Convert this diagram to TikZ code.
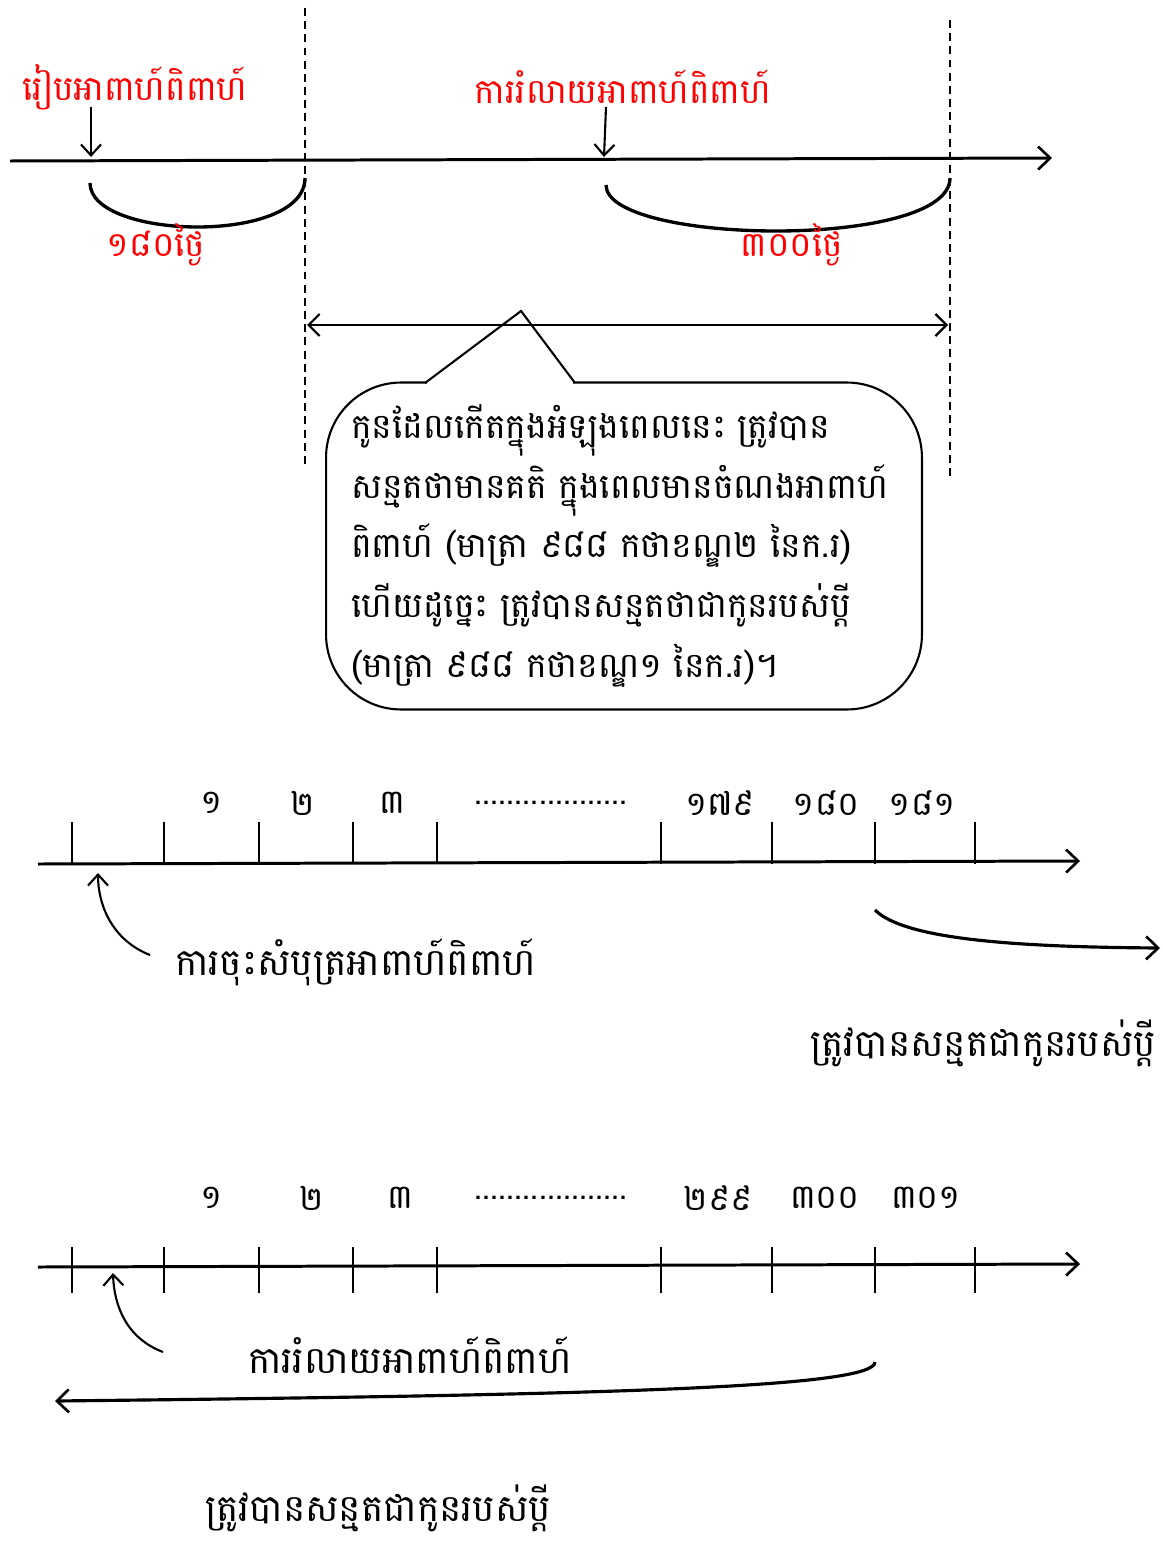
\documentclass[tikz,border=0pt]{standalone}
\usepackage{fontspec}
\newfontfamily\khmerfont[Script=Khmer]{Battambang}
\usetikzlibrary{arrows.meta, positioning}
\definecolor{labelred}{HTML}{FF0000}

\begin{document}
\begin{tikzpicture}[x=0.02cm, y=-0.02cm,
  axis/.style={line width=1.7pt, -{Straight Barb[length=2.4mm, width=4.6mm, line width=1.5pt]}},
  pointer/.style={line width=1.2pt, -{Straight Barb[length=2.2mm, width=4mm, line width=1.2pt]}},
  span/.style={line width=1.3pt, {Straight Barb[length=2.2mm, width=4.4mm, line width=1.3pt]}-{Straight Barb[length=2.2mm, width=4.4mm, line width=1.3pt]}},
  sweep/.style={line width=1.8pt, -{Straight Barb[length=2.4mm, width=4.6mm, line width=1.5pt]}},
  brace/.style={line width=1.9pt},
  marker/.style={line width=1.3pt},
  guide/.style={line width=1.1pt, dash pattern=on 4.5pt off 3pt},
  redlbl/.style={font=\khmerfont\fontsize{19.5}{22}\selectfont, text=labelred, inner sep=0pt},
  lbl/.style={font=\khmerfont\fontsize{21.3}{24}\selectfont, inner sep=0pt},
  num/.style={font=\khmerfont\fontsize{19}{22}\selectfont, inner sep=0pt},
  note/.style={draw, line width=1.2pt, rounded corners=1.5cm, minimum width=11.92cm,
               minimum height=6.54cm, align=left, text width=10.92cm, inner sep=0pt,
               font=\khmerfont\fontsize{19.7}{34}\selectfont},
]
\useasboundingbox (0,0) rectangle (1162,1541);

%% --- Top timeline ---
\draw[guide] (305,8) -- (305,466);
\draw[guide] (950,20) -- (950,478);
\coordinate (t0) at (10,161);
\coordinate (t1) at (1052,158);
\draw[axis] (t0) -- (t1);

\node[redlbl] (wed) at (135,87) {រៀបអាពាហ៍ពិពាហ៍};
\node[redlbl] (div) at (623,87) {ការរំលាយអាពាហ៍ពិពាហ៍};
\coordinate (wedpt) at (91,157);
\coordinate (divpt) at (604,157);
\draw[pointer] (91,107) -- (wedpt);
\draw[pointer] (606,107) -- (divpt);

\draw[brace] (90,183) .. controls (90,240) and (305,245) .. (305,178);
\draw[brace] (606,185) .. controls (606,245) and (950,250) .. (950,178);
\node[redlbl] (d180) at (156,245) {១៨០ថ្ងៃ};
\node[redlbl] (d300) at (792,245) {៣០០ថ្ងៃ};

%% --- Span and note ---
\coordinate (s0) at (307,325);
\coordinate (s1) at (948,325);
\draw[span] (s0) -- (s1);

\node[note] (info) at (624,546) {កូនដែលកើតក្នុងអំឡុងពេលនេះ ត្រូវបាន\\
សន្មតថាមានគតិ ក្នុងពេលមានចំណងអាពាហ៍\\
ពិពាហ៍ (មាត្រា ៩៨៨ កថាខណ្ឌ២ នៃក.រ)\\
ហើយដូច្នេះ ត្រូវបានសន្មតថាជាកូនរបស់ប្ដី\\
(មាត្រា ៩៨៨ កថាខណ្ឌ១ នៃក.រ)។};
\fill[white] (427,380) rectangle (573,387);
\draw[line width=1.2pt, line join=miter] (425,383) -- (521,311) -- (575,383);

%% --- 180 day scale ---
\draw[axis] (38,864) -- (1080,861);
\foreach \x in {72,164,259,353,437,661,772,875,975}
  \draw[marker] (\x,822) -- (\x,864);
\foreach \x/\t in {212/១,303/២,392/៣,720/១៧៩,826/១៨០,922/១៨១}
  \node[num] at (\x,803) {\t};
\node[num] (dots1) at (551,803) {...................};

\node[lbl, anchor=west] (reg) at (175,962) {ការចុះសំបុត្រអាពាហ៍ពិពាហ៍};
\draw[pointer] (150,955) .. controls (112,940) and (98,905) .. (98,873);
\node[lbl] (husb1) at (983,1043) {ត្រូវបានសន្មតជាកូនរបស់ប្ដី};
\draw[sweep] (875,910) .. controls (905,940) and (1020,947) .. (1160,948);

%% --- 300 day scale ---
\draw[axis] (38,1267) -- (1080,1264);
\foreach \x in {72,164,259,353,437,661,772,875,975}
  \draw[marker] (\x,1247) -- (\x,1293);
\foreach \x/\t in {212/១,312/២,400/៣,718/២៩៩,825/៣០០,926/៣០១}
  \node[num] at (\x,1198) {\t};
\node[num] (dots2) at (551,1198) {...................};

\node[lbl] (diss) at (410,1355) {ការរំលាយអាពាហ៍ពិពាហ៍};
\draw[pointer] (163,1352) .. controls (126,1338) and (114,1305) .. (113,1273);
\draw[sweep] (875,1362) .. controls (875,1388) and (600,1395) .. (55,1401);
\node[lbl] (husb2) at (378,1508) {ត្រូវបានសន្មតជាកូនរបស់ប្ដី};
\end{tikzpicture}
\end{document}
